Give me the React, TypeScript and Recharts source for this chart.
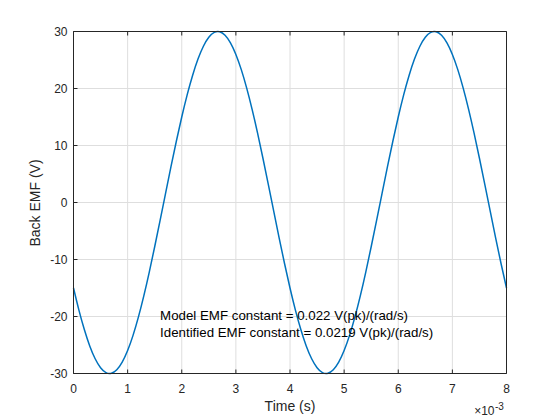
import React from 'react';
import { LineChart, Line, XAxis, YAxis, CartesianGrid, ReferenceDot } from 'recharts';

// time in units of 1e-3 s
const TIME_MS = [
  0.0, 0.1, 0.2, 0.3, 0.4, 0.5, 0.6, 0.7, 0.8, 0.9,
  1.0, 1.1, 1.2, 1.3, 1.4, 1.5, 1.6, 1.7, 1.8, 1.9,
  2.0, 2.1, 2.2, 2.3, 2.4, 2.5, 2.6, 2.7, 2.8, 2.9,
  3.0, 3.1, 3.2, 3.3, 3.4, 3.5, 3.6, 3.7, 3.8, 3.9,
  4.0, 4.1, 4.2, 4.3, 4.4, 4.5, 4.6, 4.7, 4.8, 4.9,
  5.0, 5.1, 5.2, 5.3, 5.4, 5.5, 5.6, 5.7, 5.8, 5.9,
  6.0, 6.1, 6.2, 6.3, 6.4, 6.5, 6.6, 6.7, 6.8, 6.9,
  7.0, 7.1, 7.2, 7.3, 7.4, 7.5, 7.6, 7.7, 7.8, 7.9,
  8.0,
];

const BACK_EMF_V = [
  -15.0, -18.88, -22.29, -25.16, -27.41, -28.98, -29.84, -29.96, -29.34, -28.01,
  -25.98, -23.31, -20.07, -16.34, -12.2, -7.76, -3.14, 1.57, 6.24, 10.75,
  15.0, 18.88, 22.29, 25.16, 27.41, 28.98, 29.84, 29.96, 29.34, 28.01,
  25.98, 23.31, 20.07, 16.34, 12.2, 7.76, 3.14, -1.57, -6.24, -10.75,
  -15.0, -18.88, -22.29, -25.16, -27.41, -28.98, -29.84, -29.96, -29.34, -28.01,
  -25.98, -23.31, -20.07, -16.34, -12.2, -7.76, -3.14, 1.57, 6.24, 10.75,
  15.0, 18.88, 22.29, 25.16, 27.41, 28.98, 29.84, 29.96, 29.34, 28.01,
  25.98, 23.31, 20.07, 16.34, 12.2, 7.76, 3.14, -1.57, -6.24, -10.75,
  -15.0,
];

const X_TICKS = [0, 1, 2, 3, 4, 5, 6, 7, 8];
const Y_TICKS = [-30, -20, -10, 0, 10, 20, 30];
const X_DOMAIN: [number, number] = [0, 8];
const Y_DOMAIN: [number, number] = [-30, 30];

const X_LABEL = 'Time (s)';
const Y_LABEL = 'Back EMF (V)';
const X_EXPONENT = '-3';
const ANNOTATION_LINES = [
  'Model EMF constant = 0.022 V(pk)/(rad/s)',
  'Identified EMF constant = 0.0219 V(pk)/(rad/s)',
];
const ANNOTATION_T = 1.6;
const ANNOTATION_V = -20;

const data = TIME_MS.map((t, i) => ({ t, v: BACK_EMF_V[i] }));

const AXIS = '#262626';
const LINE = '#0072BD';
const GRID = '#dedede';
const FONT = '"Liberation Sans", Arial, Helvetica, sans-serif';
const TICK_LEN = 4;

const BottomTick = (p: any) => (
  <g>
    <line x1={p.x} y1={p.y} x2={p.x} y2={p.y - TICK_LEN} stroke={AXIS} strokeWidth={1} />
    <text x={p.x} y={p.y + 19.5} textAnchor="middle" fill={AXIS} fontSize={12} fontFamily={FONT}>
      {p.payload.value}
    </text>
  </g>
);

const TopTick = (p: any) => (
  <line x1={p.x} y1={p.y} x2={p.x} y2={p.y + TICK_LEN} stroke={AXIS} strokeWidth={1} />
);

const LeftTick = (p: any) => (
  <g>
    <line x1={p.x} y1={p.y} x2={p.x + TICK_LEN} y2={p.y} stroke={AXIS} strokeWidth={1} />
    <text x={p.x - 6} y={p.y + 4.3} textAnchor="end" fill={AXIS} fontSize={12} fontFamily={FONT}>
      {p.payload.value}
    </text>
  </g>
);

const RightTick = (p: any) => (
  <line x1={p.x} y1={p.y} x2={p.x - TICK_LEN} y2={p.y} stroke={AXIS} strokeWidth={1} />
);

const XLabel = (props: any) => {
  const vb = props.viewBox || {};
  const cx = vb.x + vb.width / 2;
  const right = vb.x + vb.width;
  const y = vb.y;
  return (
    <g fontFamily={FONT} fill={AXIS}>
      <text x={cx} y={y + 37} textAnchor="middle" fontSize={14} fill={AXIS}>
        {X_LABEL}
      </text>
      <text x={right - 12} y={y + 41.5} textAnchor="end" fontSize={12} fill={AXIS}>
        ×10
      </text>
      <text x={right - 11.5} y={y + 36} textAnchor="start" fontSize={10} fill={AXIS}>
        {X_EXPONENT}
      </text>
    </g>
  );
};

const YLabel = (props: any) => {
  const vb = props.viewBox || {};
  const cy = vb.y + vb.height / 2 + 0.5;
  const x = vb.x + vb.width - 33.5;
  return (
    <text
      x={x}
      y={cy}
      textAnchor="middle"
      fontSize={14}
      fontFamily={FONT}
      fill={AXIS}
      transform={`rotate(-90, ${x}, ${cy})`}
    >
      {Y_LABEL}
    </text>
  );
};

const AnnotationLabel = (props: any) => {
  const vb = props.viewBox || {};
  const x = vb.x + (vb.width || 0) / 2;
  const y = vb.y + (vb.height || 0) / 2;
  return (
    <g>
      {ANNOTATION_LINES.map((s, i) => (
        <text
          key={i}
          x={x}
          y={y + 3.6 + i * 17.3}
          textAnchor="start"
          fontSize={13.3}
          fontFamily={FONT}
          fill="#000000"
        >
          {s}
        </text>
      ))}
    </g>
  );
};

export default function App() {
  return (
    <div style={{ position: 'absolute', left: 0, top: 0, width: 560, height: 420, background: '#ffffff' }}>
      <LineChart
        width={560}
        height={420}
        data={data}
        margin={{ top: 21.5, right: 43.5, bottom: 16.5, left: 33.5 }}
      >
        <CartesianGrid stroke={GRID} strokeWidth={1} />
        <XAxis
          type="number"
          dataKey="t"
          domain={X_DOMAIN}
          ticks={X_TICKS}
          height={30}
          tickSize={0}
          tickMargin={0}
          tickLine={false}
          axisLine={{ stroke: AXIS, strokeWidth: 1 }}
          tick={BottomTick}
          interval={0}
          label={{ content: XLabel }}
        />
        <XAxis
          xAxisId="top"
          orientation="top"
          type="number"
          dataKey="t"
          domain={X_DOMAIN}
          ticks={X_TICKS}
          height={10}
          tickSize={0}
          tickMargin={0}
          tickLine={false}
          axisLine={{ stroke: AXIS, strokeWidth: 1 }}
          tick={TopTick}
          interval={0}
        />
        <YAxis
          type="number"
          domain={Y_DOMAIN}
          ticks={Y_TICKS}
          width={40}
          tickSize={0}
          tickMargin={0}
          tickLine={false}
          axisLine={{ stroke: AXIS, strokeWidth: 1 }}
          tick={LeftTick}
          interval={0}
          label={{ content: YLabel }}
        />
        <YAxis
          yAxisId="right"
          orientation="right"
          type="number"
          domain={Y_DOMAIN}
          ticks={Y_TICKS}
          width={10}
          tickSize={0}
          tickMargin={0}
          tickLine={false}
          axisLine={{ stroke: AXIS, strokeWidth: 1 }}
          tick={RightTick}
          interval={0}
        />
        <Line
          type="natural"
          dataKey="v"
          stroke={LINE}
          strokeWidth={1.5}
          dot={false}
          activeDot={false}
          isAnimationActive={false}
        />
        <ReferenceDot
          x={ANNOTATION_T}
          y={ANNOTATION_V}
          r={0}
          fill="none"
          stroke="none"
          label={{ content: AnnotationLabel }}
        />
      </LineChart>
    </div>
  );
}
